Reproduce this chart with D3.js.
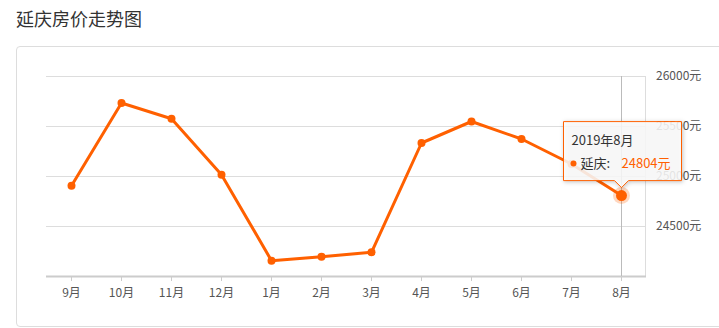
<!DOCTYPE html>
<html lang="zh">
<head>
<meta charset="UTF-8" />
<title>延庆房价走势图</title>
<script src="https://d3js.org/d3.v7.min.js"></script>
<style>
  body { margin: 0; background: #fff; font-family: "Noto Sans CJK SC", "Microsoft YaHei", sans-serif; }
  #title { position: absolute; left: 16px; top: 5px; font-size: 18px; color: #333; }
  #card { position: absolute; left: 16px; top: 46px; width: 720px; height: 281px;
          border: 1px solid #ddd; border-radius: 4px; box-sizing: border-box; }
  svg { position: absolute; left: 0; top: 0; }
</style>
</head>
<body>
<div id="title">延庆房价走势图</div>
<div id="card"></div>
<svg id="chart" width="719" height="328"></svg>
<script>
const months = ["9月", "10月", "11月", "12月", "1月", "2月", "3月", "4月", "5月", "6月", "7月", "8月"];
const prices = [24903, 25730, 25573, 25013, 24153, 24193, 24237, 25330, 25545, 25370, 25120, 24804];
const yTicks = [24500, 25000, 25500, 26000];
const seriesName = "延庆";
const activeLabel = "2019年8月";
const activeIndex = 11;

const color = "#ff6000";
const svg = d3.select("#chart");

const x = d3.scaleBand().domain(months).range([46, 646]);
const y = d3.scaleLinear().domain([24000, 26000]).range([276, 76]);
const cx = d => x(d) + x.bandwidth() / 2;

// grid lines
svg.append("g").selectAll("line").data(yTicks).join("line")
  .attr("x1", 46).attr("x2", 646)
  .attr("y1", d => y(d) + 0.5).attr("y2", d => y(d) + 0.5)
  .attr("stroke", "#ddd");

// right edge
svg.append("line").attr("x1", 645.5).attr("x2", 645.5).attr("y1", 76).attr("y2", 276)
  .attr("stroke", "#ddd");

// y labels
svg.append("g").selectAll("text").data(yTicks).join("text")
  .attr("x", 656).attr("y", d => y(d)).attr("dy", "0.35em")
  .attr("font-size", 12).attr("fill", "#555")
  .text(d => d + "元");

// x axis
const xAxis = svg.append("g").attr("transform", "translate(0,276)");
xAxis.append("line").attr("x1", 46).attr("x2", 646).attr("y1", 0.5).attr("y2", 0.5)
  .attr("stroke", "#ccc").attr("stroke-width", 2);
xAxis.selectAll(".tk").data(months).join("line")
  .attr("x1", d => cx(d) + 0.5).attr("x2", d => cx(d) + 0.5)
  .attr("y1", 1).attr("y2", 5).attr("stroke", "#ccc");
xAxis.selectAll("text").data(months).join("text")
  .attr("x", d => cx(d) + 0.5).attr("y", 17).attr("dy", "0.35em")
  .attr("text-anchor", "middle").attr("font-size", 12).attr("fill", "#555")
  .text(d => d);

// axis pointer
svg.append("line")
  .attr("x1", cx(months[activeIndex]) + 0.5).attr("x2", cx(months[activeIndex]) + 0.5)
  .attr("y1", 76).attr("y2", 276).attr("stroke", "#bbb");

// line
const line = d3.line().x((d, i) => cx(months[i]) + 0.5).y(d => y(d));
svg.append("path").datum(prices)
  .attr("d", line).attr("fill", "none")
  .attr("stroke", color).attr("stroke-width", 3).attr("stroke-linejoin", "round");

svg.append("g").selectAll("circle").data(prices).join("circle")
  .attr("cx", (d, i) => cx(months[i]) + 0.5).attr("cy", d => y(d))
  .attr("r", 4).attr("fill", color);

// highlighted point
const ax = cx(months[activeIndex]) + 0.5, ay = y(prices[activeIndex]);
svg.append("circle").attr("cx", ax).attr("cy", ay).attr("r", 8.5)
  .attr("fill", color).attr("fill-opacity", 0.25);
svg.append("circle").attr("cx", ax).attr("cy", ay).attr("r", 5.5).attr("fill", color);

// tooltip
const tw = 118, th = 59;
const tx = ax - 58, ty = ay - 74;
const tip = svg.append("g");
tip.append("path")
  .attr("d", `M${tx},${ty} h${tw} v${th} H${ax + 7} l-7,7 l-7,-7 H${tx} Z`)
  .attr("fill", "rgba(255,255,255,0.85)").attr("stroke", color)
  .attr("style", "filter: drop-shadow(1px 1px 2px rgba(0,0,0,0.25))");
tip.append("text").attr("x", tx + 8).attr("y", ty + 19).attr("dy", "0.35em")
  .attr("font-size", 13).attr("fill", "#333").text(activeLabel);
tip.append("circle").attr("cx", tx + 10).attr("cy", ty + 42).attr("r", 3).attr("fill", color);
tip.append("text").attr("x", tx + 17).attr("y", ty + 42).attr("dy", "0.35em")
  .attr("font-size", 13).attr("fill", "#333").text(seriesName + ":");
tip.append("text").attr("x", tx + 58).attr("y", ty + 42).attr("dy", "0.35em")
  .attr("font-size", 13).attr("fill", color).text(prices[activeIndex] + "元");
</script>
</body>
</html>
